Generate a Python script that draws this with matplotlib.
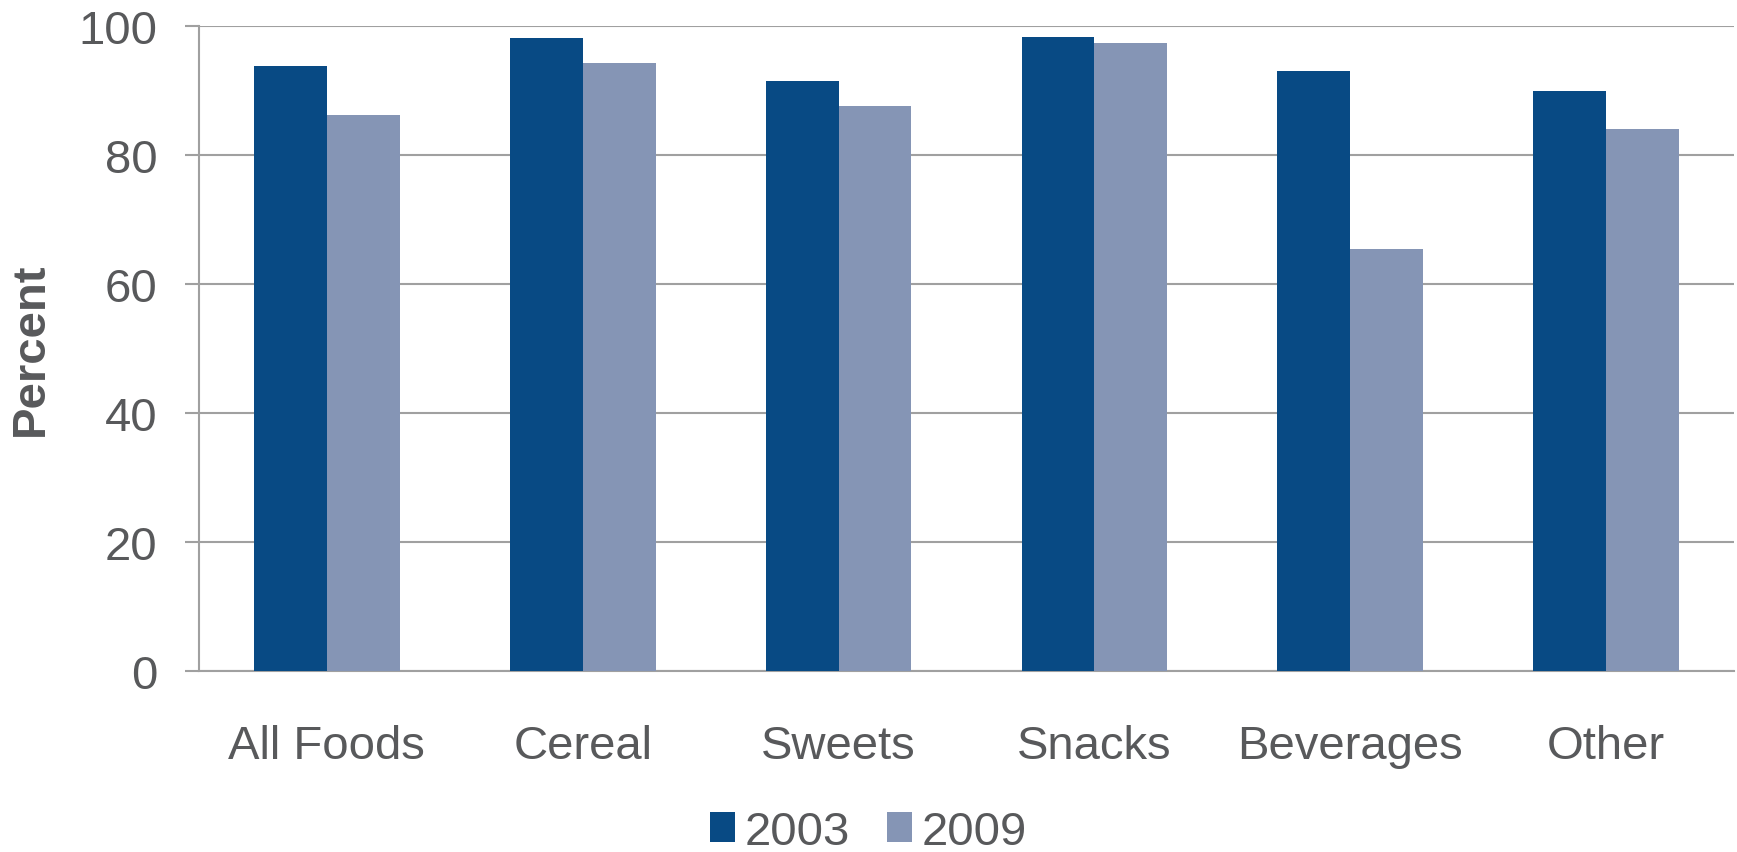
import numpy as np
import matplotlib
matplotlib.use("Agg")
import matplotlib.pyplot as plt

categories = ["All Foods", "Cereal", "Sweets", "Snacks", "Beverages", "Other"]
pct_2003 = [93.8, 98.1, 91.5, 98.3, 93.1, 90.0]
pct_2009 = [86.2, 94.3, 87.6, 97.4, 65.4, 84.1]

dark = "#084a84"
light = "#8595b5"
text_col = "#58595b"
grid_col = "#a0a0a0"

plt.rcParams['font.family'] = ['Liberation Sans', 'DejaVu Sans']

fig = plt.figure(figsize=(17.37, 8.53), dpi=100)
ax = fig.add_axes([199 / 1737, 1 - 672 / 853, 1535 / 1737, 645 / 853])

x = np.arange(len(categories))
w = 0.285
ax.bar(x - w / 2, pct_2003, w, color=dark, label="2003", zorder=3)
ax.bar(x + w / 2, pct_2009, w, color=light, label="2009", zorder=3)

ax.set_xlim(-0.5, len(categories) - 0.5)
ax.set_ylim(0, 100)
ax.set_yticks([0, 20, 40, 60, 80, 100])
ax.yaxis.grid(True, color=grid_col, linewidth=1.5, zorder=0)
ax.set_axisbelow(True)

for s in ["top", "right"]:
    ax.spines[s].set_visible(False)
ax.spines["left"].set_color(grid_col)
ax.spines["bottom"].set_color(grid_col)
ax.spines["left"].set_linewidth(1.5)
ax.spines["bottom"].set_linewidth(1.5)

ax.set_xticks(x)
ax.set_xticklabels(categories)
ax.tick_params(axis="x", length=0, pad=38, labelsize=34, labelcolor=text_col)
ax.tick_params(axis="y", length=10, width=1.5, color=grid_col, pad=20,
               labelsize=34, labelcolor=text_col)

fig.text(31 / 1737, 1 - 349 / 853, "Percent", rotation=90, ha="center", va="center",
         fontsize=34, fontweight="bold", color=text_col)

fig.legend(loc="center", bbox_to_anchor=(0.5, 0.024), ncol=2, frameon=False,
           fontsize=34, labelcolor=text_col, handlelength=0.53, handleheight=0.62,
           handletextpad=0.2, columnspacing=0.8, borderpad=0)

fig.savefig("out.png", dpi=100)
